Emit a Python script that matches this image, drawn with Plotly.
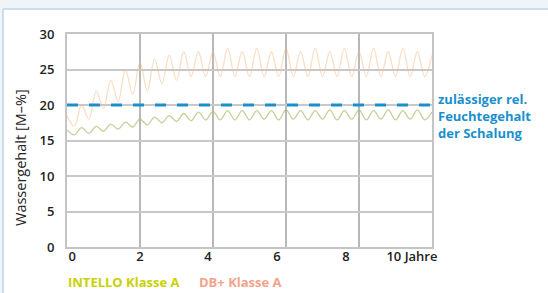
import plotly.graph_objects as go

# ---- data ----
step_years = 0.2
db_plus = [18.5, 17.0, 20.0, 18.0, 22.0, 19.5, 23.5, 20.5, 25.0, 21.5,
           26.0, 22.0, 26.5, 23.0, 27.0, 23.5, 27.5, 24.0, 27.5, 24.0,
           27.5, 24.0, 28.0, 24.0, 27.5, 24.0, 28.0, 24.0, 27.5, 24.0,
           28.0, 24.0, 27.5, 24.0, 28.0, 24.0, 27.5, 24.0, 28.0, 24.0,
           27.5, 24.0, 28.0, 24.0, 27.5, 24.0, 28.0, 24.0, 27.5, 24.0, 27.0]
intello = [16.5, 15.8, 16.8, 16.0, 17.0, 16.3, 17.3, 16.6, 17.6, 16.9,
           18.0, 17.2, 18.3, 17.5, 18.5, 17.7, 18.8, 17.8, 19.0, 17.9,
           19.1, 17.9, 19.2, 17.9, 19.2, 17.9, 19.2, 18.0, 19.2, 17.9,
           19.3, 18.0, 19.2, 17.9, 19.2, 18.0, 19.3, 17.9, 19.2, 18.0,
           19.3, 17.9, 19.2, 18.0, 19.3, 17.9, 19.2, 18.0, 19.3, 17.9, 19.0]
years_db = [round(i * step_years, 2) for i in range(len(db_plus))]
years_in = [round(i * step_years, 2) for i in range(len(intello))]
limit_value = 20
limit_x = [0, 10]
y_ticks = [0, 5, 10, 15, 20, 25, 30]
x_grid = [0, 2, 4, 6, 8, 10]
x_label_pos = [0.14, 2.0, 3.86, 5.75, 7.64, 9.45]
x_labels = ["0", "2", "4", "6", "8", "10 Jahre"]
y_title = "Wassergehalt [M–%]"

FONT = "Open Sans"
BLUE = "#1b8fcc"
GREEN = "#c9d200"
SALMON = "#f4a38a"

fig = go.Figure()
fig.add_trace(go.Scatter(x=years_db, y=db_plus, mode="lines",
                         line=dict(color="rgba(245,190,140,0.5)", width=1.3, shape="spline"),
                         showlegend=False, hoverinfo="skip"))
fig.add_trace(go.Scatter(x=years_in, y=intello, mode="lines",
                         line=dict(color="rgba(175,185,110,0.7)", width=1.3, shape="spline"),
                         showlegend=False, hoverinfo="skip"))
fig.add_trace(go.Scatter(x=limit_x, y=[limit_value, limit_value], mode="lines",
                         line=dict(color=BLUE, width=3, dash="11px,11px"),
                         showlegend=False, hoverinfo="skip"))
# invisible trace to carry the label axis
fig.add_trace(go.Scatter(x=[0, 10], y=[None, None], xaxis="x2", mode="lines",
                         showlegend=False, hoverinfo="skip"))

L, R, T, B = 67, 116, 34, 46
W, H = 548, 293
pw = W - L - R
ph = H - T - B

def px_x(p):
    return (p - L) / pw

def px_y(p):
    return 1 - (p - T) / ph

fig.update_layout(
    width=W, height=H,
    margin=dict(l=L, r=R, t=T, b=B),
    paper_bgcolor="white",
    plot_bgcolor="white",
    font=dict(family=FONT, size=13, color="#222222"),
    xaxis=dict(range=[0, 10], tickvals=x_grid, showticklabels=False,
               showgrid=True, gridcolor="#b8b8b8", gridwidth=2,
               zeroline=False, showline=True, linecolor="#c4c4c4", linewidth=2,
               mirror=True, ticks="", automargin=False),
    xaxis2=dict(range=[0, 10], overlaying="x", side="bottom", anchor="y",
                tickvals=x_label_pos, ticktext=x_labels, showgrid=False,
                zeroline=False, showline=False, ticks="", automargin=False,
                tickfont=dict(family=FONT, size=13, color="#222222", weight=600)),
    yaxis=dict(range=[0, 30], tickvals=y_ticks, showgrid=True,
               gridcolor="#c8c8c8", gridwidth=2, zeroline=False,
               showline=True, linecolor="#c4c4c4", linewidth=2, mirror=True,
               ticks="", ticklabelstandoff=8, automargin=False,
               tickfont=dict(family=FONT, size=13, color="#222222", weight=600)),
)

# light panel frame (outside tint + left/top border)
tint = "#eef4f8"
fig.add_shape(type="rect", xref="paper", yref="paper",
              x0=px_x(0), x1=px_x(W), y0=px_y(9), y1=px_y(0),
              fillcolor=tint, line=dict(width=0), layer="above")
fig.add_shape(type="rect", xref="paper", yref="paper",
              x0=px_x(0), x1=px_x(3), y0=px_y(H), y1=px_y(9),
              fillcolor=tint, line=dict(width=0), layer="above")
fig.add_shape(type="line", xref="paper", yref="paper",
              x0=px_x(3), x1=px_x(W), y0=px_y(9), y1=px_y(9),
              line=dict(color="#bcd5e5", width=1.5), layer="above")
fig.add_shape(type="line", xref="paper", yref="paper",
              x0=px_x(3), x1=px_x(3), y0=px_y(H), y1=px_y(9),
              line=dict(color="#bcd5e5", width=1.5), layer="above")

fig.add_annotation(xref="paper", yref="paper", x=px_x(20), y=px_y(158),
                   xanchor="center", yanchor="middle", textangle=-90,
                   showarrow=False, text=y_title,
                   font=dict(family=FONT, size=14.5, color="#222222"))
fig.add_annotation(xref="paper", yref="paper", x=px_x(436), y=px_y(88),
                   xanchor="left", yanchor="top", align="left", showarrow=False,
                   text="<b>zulässiger rel.<br>Feuchtegehalt<br>der Schalung</b>",
                   font=dict(family=FONT, size=13, color=BLUE))
fig.add_annotation(xref="paper", yref="paper", x=px_x(66), y=px_y(282),
                   xanchor="left", yanchor="middle", showarrow=False,
                   text="<b>INTELLO Klasse A</b>",
                   font=dict(family=FONT, size=13, color=GREEN))
fig.add_annotation(xref="paper", yref="paper", x=px_x(197), y=px_y(282),
                   xanchor="left", yanchor="middle", showarrow=False,
                   text="<b>DB+ Klasse A</b>",
                   font=dict(family=FONT, size=13, color=SALMON))

fig.write_html("out.html", config={"displayModeBar": False},
               post_script="document.body.style.margin='0';")
